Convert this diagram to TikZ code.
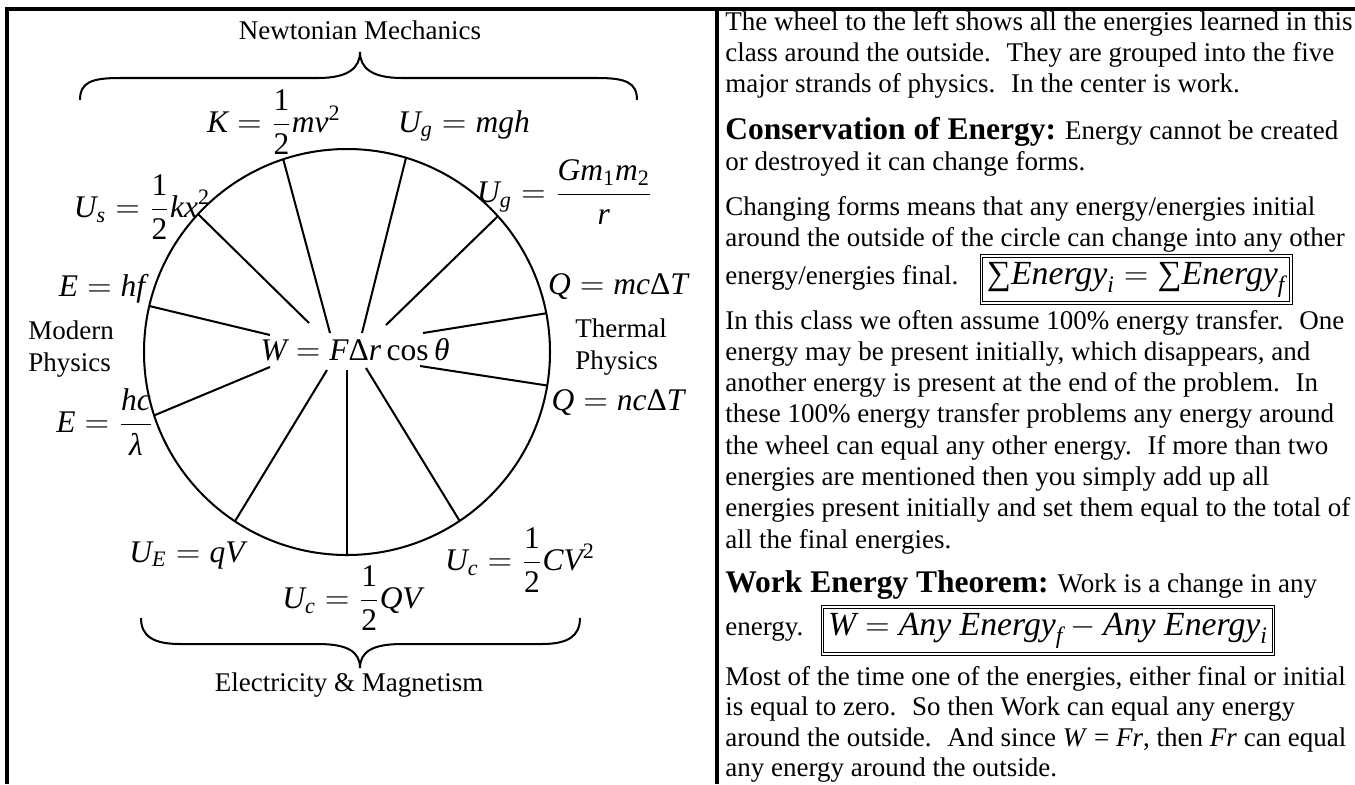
\documentclass[tikz,border=0pt]{standalone}
\usepackage{amsmath}
\usepackage{fontspec}
\setmainfont{Liberation Serif}
\usetikzlibrary{calc}

\newcommand{\iv}[1]{\textit{#1}}

\begin{document}
\begin{tikzpicture}[
  x=0.4444pt, y=-0.4444pt,
  tablerule/.style={line width=1.35pt},
  wheel/.style={line width=0.9pt},
  brc/.style={line width=0.9pt},
  lbl/.style={inner sep=0pt, font=\fontsize{12}{13.9}\selectfont},
  eq/.style={inner sep=0pt, font=\fontsize{14}{16}\selectfont},
  para/.style={inner sep=0pt, anchor=base west, align=left, font=\fontsize{12}{13.9}\selectfont},
  bx/.style={draw, double, line width=0.45pt, double distance=0.7pt, inner sep=2.5pt, anchor=base west, font=\fontsize{15}{17}\selectfont}
]
\useasboundingbox (0,0) rectangle (1355,784);
\draw[tablerule] (7,784) -- (7,9) -- (1355,9);
\draw[tablerule] (717,9) -- (717,784);

\coordinate (c) at (347,352);
\draw[wheel] (c) ellipse [x radius=203, y radius=203];
\foreach \ix/\iy/\a in {330/333/-108.3, 362/333/-73.1, 309/323/-137.2, 386/325/-42,
                        270/335/-166.9, 423/333/-11, 420/366/9.5, 270/367/161.8,
                        327/370/123.5, 347/370/90, 366/368/56.3}
  \draw[wheel] (\ix,\iy) -- ($(c)+(\a:203 and 203)$);

\draw[brc] (80,100) .. controls (80,82) and (92,78) .. (120,78) -- (318,78)
  .. controls (348,78) and (360,68) .. (360,52)
  .. controls (360,68) and (372,78) .. (402,78) -- (597,78)
  .. controls (625,78) and (637,82) .. (637,100);
\draw[brc] (141,618) .. controls (141,636) and (153,644) .. (180,644) -- (318,644)
  .. controls (348,644) and (360,652) .. (360,668)
  .. controls (360,652) and (372,644) .. (402,644) -- (542,644)
  .. controls (568,644) and (580,636) .. (580,618);

\node[lbl] (newton) at (360,30) {Newtonian Mechanics};
\node[lbl] (elec) at (349,685) {Electricity \& Magnetism};
\node[lbl, align=left, anchor=base west] (modern) at (28,371) {Modern\\Physics};
\node[lbl, align=left, anchor=base west] (thermal) at (575,369) {Thermal\\Physics};

\node[eq] (work) at (355,350) {$\iv{W}=\iv{F}\text{Δ}\iv{r}\,\text{cos}\,\iv{θ}$};
\node[eq] (kin) at (274,122) {$\iv{K}=\dfrac{\text{1}}{\text{2}}\iv{mv}^{\text{2}}$};
\node[eq, anchor=base] (grav) at (464,132) {$\iv{U}_{\iv{g}}=\iv{mgh}$};
\node[eq] (spring) at (142,207) {$\iv{U}_{\iv{s}}=\dfrac{\text{1}}{\text{2}}\iv{kx}^{\text{2}}$};
\node[eq] (newtgrav) at (565,192) {$\iv{U}_{\iv{g}}=\dfrac{\iv{Gm}_{\text{1}}\iv{m}_{\text{2}}}{\iv{r}}$};
\node[eq, anchor=base] (photon) at (102,296) {$\iv{E}=\iv{hf}$};
\node[eq, anchor=base] (heat) at (618,294) {$\iv{Q}=\iv{mc}\text{Δ}\iv{T}$};
\node[eq] (wave) at (105,422) {$\iv{E}=\dfrac{\iv{hc}}{\iv{λ}}$};
\node[eq, anchor=base] (molar) at (618,410) {$\iv{Q}=\iv{nc}\text{Δ}\iv{T}$};
\node[eq, anchor=base] (elpot) at (187,562) {$\iv{U}_{\iv{E}}=\iv{qV}$};
\node[eq] (capq) at (352,598) {$\iv{U}_{\iv{c}}=\dfrac{\text{1}}{\text{2}}\iv{QV}$};
\node[eq] (capv) at (520,560) {$\iv{U}_{\iv{c}}=\dfrac{\text{1}}{\text{2}}\iv{CV}^{\text{2}}$};

\node[para] (intro) at (725,92.6) {The wheel to the left shows all the energies learned in this\\
class around the outside.~ They are grouped into the five\\
major strands of physics.~ In the center is work.};
\node[para] (cons) at (725,170.3) {{\fontsize{14}{16}\selectfont\bfseries Conservation of Energy:} Energy cannot be created\\
or destroyed it can change forms.};
\node[para] (change) at (725,246.3) {Changing forms means that any energy/energies initial\\
around the outside of the circle can change into any other};
\node[para] (final) at (725,284) {energy/energies final.};
\node[bx] (sumbox) at ($(final.base east)+(22,0)$) {$\text{∑}\iv{Energy}_{\iv{i}}=\text{∑}\iv{Energy}_{\iv{f}}$};
\node[para] (transfer) at (725,548) {In this class we often assume 100\% energy transfer.~ One\\
energy may be present initially, which disappears, and\\
another energy is present at the end of the problem.~ In\\
these 100\% energy transfer problems any energy around\\
the wheel can equal any other energy.~ If more than two\\
energies are mentioned then you simply add up all\\
energies present initially and set them equal to the total of\\
all the final energies.};
\node[para] (wet) at (725,592) {{\fontsize{14}{16}\selectfont\bfseries Work Energy Theorem:} Work is a change in any};
\node[para] (en) at (725,635) {energy.};
\node[bx] (workbox) at ($(en.base east)+(18,0)$) {$\iv{W}=\iv{Any}\ \iv{Energy}_{\iv{f}}-\iv{Any}\ \iv{Energy}_{\iv{i}}$};
\node[para, font=\fontsize{12}{13.6}\selectfont] (most) at (725,776.8) {Most of the time one of the energies, either final or initial\\
is equal to zero.~ So then Work can equal any energy\\
around the outside.~ And since \iv{W} = \iv{Fr}, then \iv{Fr} can equal\\
any energy around the outside.};
\end{tikzpicture}
\end{document}
